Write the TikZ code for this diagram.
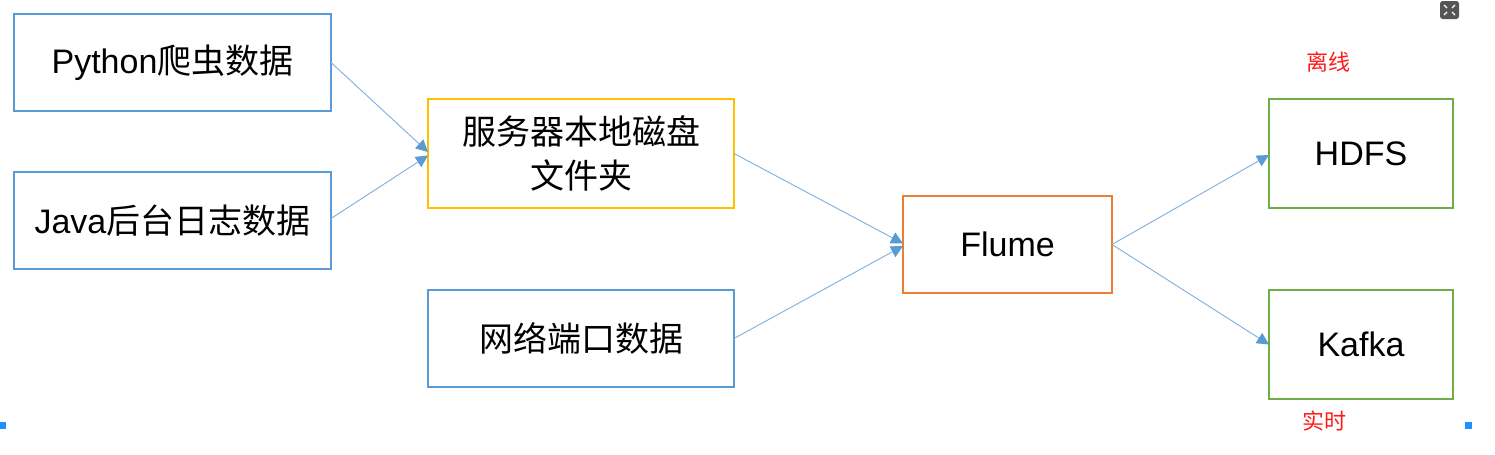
\documentclass[tikz,border=0pt]{standalone}
\usepackage{fontspec}
\setmainfont{Liberation Sans}
\newfontfamily\cjk{Noto Sans CJK SC}
\usetikzlibrary{arrows.meta,calc}
\definecolor{cblue}{HTML}{5B9BD5}
\definecolor{cyellow}{HTML}{FFC000}
\definecolor{corange}{HTML}{ED7D31}
\definecolor{cgreen}{HTML}{70AD47}
\definecolor{cred}{HTML}{FF1A1A}
\definecolor{cline}{HTML}{7FB2E0}
\definecolor{cicon}{HTML}{555555}
\definecolor{cmark}{HTML}{1E90FF}
\begin{document}
\begin{tikzpicture}[x=0.75pt,y=-0.75pt,
  box/.style={draw=#1,line width=1.5pt,fill=white,inner sep=0pt,outer sep=0pt,
    align=center,font=\fontsize{25.5}{32.5}\selectfont},
  flow/.style={draw=cline,line width=0.7pt,
    -{Triangle[length=9pt,width=9pt,color=cblue,fill=cblue]}},
  tag/.style={text=cred,font=\cjk\fontsize{16.5}{18}\selectfont,inner sep=0pt}]
\useasboundingbox (0,0) rectangle (1495,454);
\fill[white] (0,0) rectangle (1495,454);
% nodes
\node[box=cblue,minimum width=237.75pt,minimum height=72.75pt] (b1) at (172.5,62.5) {Python{\cjk 爬虫数据}};
\node[box=cblue,minimum width=237.75pt,minimum height=72.75pt] (b2) at (172.5,220.5) {Java{\cjk 后台日志数据}};
\node[box=cyellow,minimum width=229.5pt,minimum height=81.75pt] (b3) at (581,153.5) {\cjk 服务器本地磁盘\\\cjk 文件夹};
\node[box=cblue,minimum width=229.5pt,minimum height=72.75pt] (b4) at (581,338.5) {\cjk 网络端口数据};
\node[box=corange,minimum width=156.75pt,minimum height=72.75pt] (b5) at (1007.5,244.5) {Flume};
\node[box=cgreen,minimum width=138pt,minimum height=81.75pt] (b6) at (1361,153.5) {HDFS};
\node[box=cgreen,minimum width=138pt,minimum height=81.75pt] (b7) at (1361,344.5) {Kafka};
\node[tag] (l1) at (1328,62) {离线};
\node[tag] (l2) at (1324,421) {实时};
% connectors
\draw[flow] (b1.east) -- ($(b3.west)+(0,-1.5)$);
\draw[flow] ($(b2.east)+(0,-2)$) -- ($(b3.west)+(0,2)$);
\draw[flow] (b3.east) -- ($(b5.west)+(0,-1)$);
\draw[flow] (b4.east) -- ($(b5.west)+(0,1.5)$);
\draw[flow] (b5.east) -- ($(b6.west)+(0,1.5)$);
\draw[flow] (b5.east) -- (b7.west);
% screenshot marks
\fill[cicon,rounded corners=2pt] (1440,1) rectangle (1459,19);
\draw[white,line width=1pt] (1444,5) -- (1447,8) (1455,5) -- (1452,8) (1444,15) -- (1447,12) (1455,15) -- (1452,12);
\fill[cmark] (0,422) rectangle (6,429);
\fill[cmark] (1465,422) rectangle (1472,429);
\end{tikzpicture}
\end{document}
